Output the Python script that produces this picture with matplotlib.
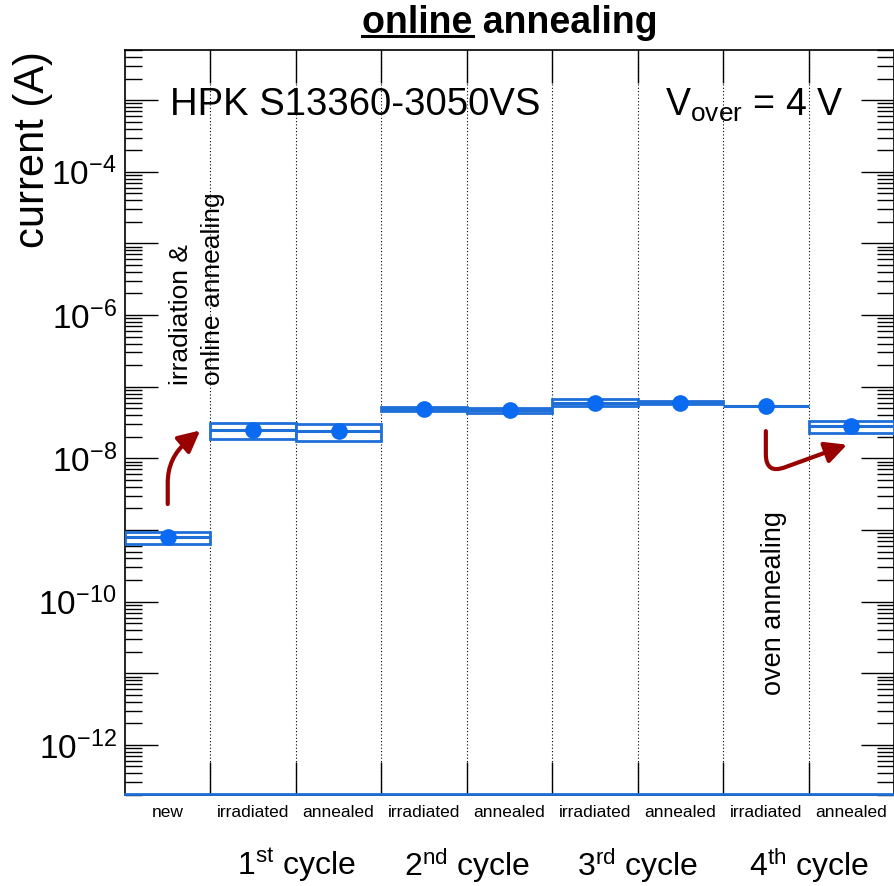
import matplotlib
matplotlib.use("Agg")
import matplotlib.pyplot as plt
import numpy as np
from matplotlib.patches import Rectangle
from matplotlib.ticker import FixedLocator, NullFormatter, FuncFormatter
from matplotlib.lines import Line2D

# ---------------- data ----------------
stages = ["new", "irradiated", "annealed", "irradiated", "annealed",
          "irradiated", "annealed", "irradiated", "annealed"]
current = [7.9e-10, 2.5e-8, 2.4e-8, 4.9e-8, 4.7e-8, 6.0e-8, 6.0e-8, 5.4e-8, 2.8e-8]
current_err = [1.5e-10, 0.65e-8, 0.65e-8, 0.35e-8, 0.35e-8, 0.7e-8, 0.35e-8, 0.0, 0.55e-8]
cycle_labels = ["1$^{\\rm st}$ cycle", "2$^{\\rm nd}$ cycle",
                "3$^{\\rm rd}$ cycle", "4$^{\\rm th}$ cycle"]
cycle_centers = [2, 4, 6, 8]
ytick_exponents = [-12, -10, -8, -6, -4]
ylim = (2e-13, 5e-3)

# ---------------- style ----------------
plt.rcParams['font.family'] = ['Liberation Sans', 'DejaVu Sans']
plt.rcParams['mathtext.fontset'] = 'custom'
plt.rcParams['mathtext.rm'] = 'Liberation Sans'
plt.rcParams['mathtext.it'] = 'Liberation Sans:italic'
plt.rcParams['mathtext.bf'] = 'Liberation Sans:bold'
plt.rcParams['mathtext.sf'] = 'Liberation Sans'

MARK = '#0a6af2'
BOX = '#1f6fd8'
ARROW = '#990000'

fig = plt.figure(figsize=(8.94, 8.86), dpi=100)
W, H = 894, 886
L, R, T, B = 125, 894, 50, 795
ax = fig.add_axes([L / W, 1 - B / H, (R - L) / W, (B - T) / H])

n = len(stages)
ax.set_xlim(0, n)
ax.set_yscale('log')
ax.set_ylim(*ylim)

# dotted separators
for e in range(1, n):
    ax.axvline(e, color='black', ls=(0, (1, 2)), lw=0.8, zorder=1)

# boxes, lines, markers
for i, (v, err) in enumerate(zip(current, current_err)):
    if err > 0:
        ax.add_patch(Rectangle((i, v - err), 1, 2 * err, facecolor='white',
                               edgecolor=BOX, lw=2.0, zorder=3))
    ax.plot([i, i + 1], [v, v], color=BOX, lw=2.2, zorder=4, solid_capstyle='butt')
    ax.plot(i + 0.5, v, 'o', color=MARK, ms=11, zorder=5, mec=MARK)

# bottom blue line
ax.axhline(ylim[0] * 1.04, color='#1f6fd8', lw=2, zorder=6, clip_on=False)

# ticks
ax.xaxis.set_major_locator(FixedLocator(list(range(1, n))))
ax.xaxis.set_major_formatter(NullFormatter())
ax.tick_params(axis='x', which='major', direction='in', length=24, width=1,
               top=True, bottom=True)
ax.tick_params(axis='x', which='minor', bottom=False, top=False)

decades = list(range(-13, -2))
ax.yaxis.set_major_locator(FixedLocator([10.0 ** d for d in decades]))
ax.yaxis.set_minor_locator(FixedLocator([k * 10.0 ** d for d in decades for k in range(2, 10)]))


def fmt(v, pos):
    e = int(round(np.log10(v)))
    return "$10^{%d}$" % e if e in ytick_exponents else ""


ax.yaxis.set_major_formatter(FuncFormatter(fmt))
ax.yaxis.set_minor_formatter(NullFormatter())
ax.tick_params(axis='y', which='major', direction='in', length=24, width=1,
               left=True, right=True, labelsize=24, pad=6)
ax.tick_params(axis='y', which='minor', direction='in', length=12, width=1,
               left=True, right=True)
for s in ax.spines.values():
    s.set_linewidth(1.2)

ax.set_ylabel("current (A)", fontsize=30)
ax.yaxis.set_label_coords(-0.094, 0.866)

# stage labels
for i, s in enumerate(stages):
    ax.text(i + 0.5, -0.023, s, transform=ax.get_xaxis_transform(),
            ha='center', va='center', fontsize=12.5)
for c, lab in zip(cycle_centers, cycle_labels):
    ax.text(c, -0.094, lab, transform=ax.get_xaxis_transform(),
            ha='center', va='center', fontsize=23)

# in-plot texts
ax.text(0.0585, 0.926, "HPK S13360-3050VS", transform=ax.transAxes,
        ha='left', va='center', fontsize=27.5)
ax.text(0.934, 0.926, "V$_{\\rm over}$ = 4 V", transform=ax.transAxes,
        ha='right', va='center', fontsize=27)

ax.text(0.655, 0.55, "irradiation &", transform=ax.get_xaxis_transform(),
        rotation=90, ha='center', va='bottom', fontsize=19)
ax.text(1.03, 0.55, "online annealing", transform=ax.get_xaxis_transform(),
        rotation=90, ha='center', va='bottom', fontsize=19)
ax.text(7.6, 0.134, "oven annealing", transform=ax.get_xaxis_transform(),
        rotation=90, ha='center', va='bottom', fontsize=19.5)

# arrows
ax.annotate("", xy=(0.88, 2.45e-8), xytext=(0.5, 2.3e-9),
            arrowprops=dict(arrowstyle='-|>,head_length=1.3,head_width=0.65',
                            color=ARROW, lw=3,
                            connectionstyle='angle,angleA=90,angleB=40,rad=25',
                            shrinkA=0, shrinkB=0))
ax.annotate("", xy=(8.45, 1.55e-8), xytext=(7.5, 2.4e-8),
            arrowprops=dict(arrowstyle='-|>,head_length=1.3,head_width=0.65',
                            color=ARROW, lw=3,
                            connectionstyle='angle,angleA=-90,angleB=20,rad=20',
                            shrinkA=0, shrinkB=0))

# title with underlined "online"
title_y = 1 - 23 / H
t1 = fig.text(510 / W, title_y, "online annealing", ha='center', va='center',
              fontsize=27, fontweight='bold')
fig.canvas.draw()
r = fig.canvas.get_renderer()
tmp = fig.text(0, 0, "online", fontsize=27, fontweight='bold')
w_online = tmp.get_window_extent(r).width
tmp.remove()
bb = t1.get_window_extent(r)
x0 = bb.x0 / W
x1 = (bb.x0 + w_online) / W
uy = 1 - 36 / H
fig.add_artist(Line2D([x0, x1], [uy, uy], color='black', lw=2.2,
                      transform=fig.transFigure))

fig.savefig("out.png", dpi=100)
